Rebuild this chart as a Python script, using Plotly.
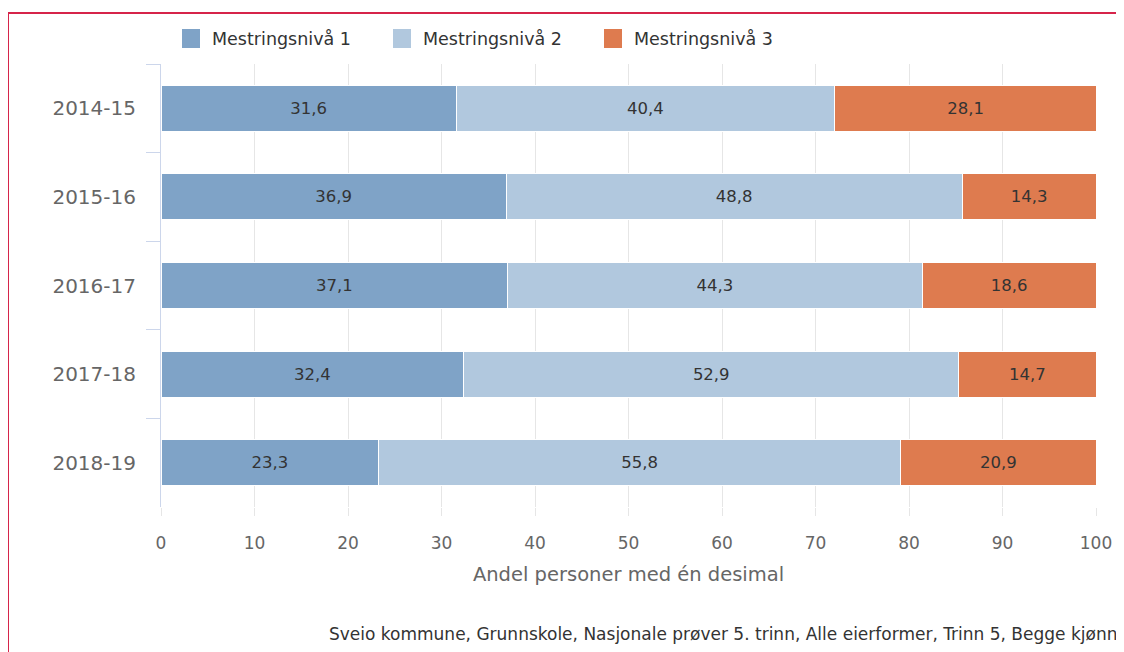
import plotly.graph_objects as go

categories = ["2014-15", "2015-16", "2016-17", "2017-18", "2018-19"]
series_names = ["Mestringsnivå 1", "Mestringsnivå 2", "Mestringsnivå 3"]
niva1 = [31.6, 36.9, 37.1, 32.4, 23.3]
niva2 = [40.4, 48.8, 44.3, 52.9, 55.8]
niva3 = [28.1, 14.3, 18.6, 14.7, 20.9]
x_ticks = [0, 10, 20, 30, 40, 50, 60, 70, 80, 90, 100]
colors = ["#7fa3c7", "#b1c8de", "#de7b4f"]
x_title = "Andel personer med én desimal"
footer = "Sveio kommune, Grunnskole, Nasjonale prøver 5. trinn, Alle eierformer, Trinn 5, Begge kjønn"

# page body has an 8px margin, so the figure is drawn 8px in from the viewport corner
OFF = 8
W, H = 1124 - OFF, 652 - OFF
L, R, T, B = 161 - OFF, 1124 - 1096, 64 - OFF, 652 - 507
PW, PH = W - L - R, H - T - B


def px(x):
    """reference viewport x -> paper x"""
    return (x - OFF - L) / PW


def py(y):
    """reference viewport y -> paper y"""
    return (H - B - (y - OFF)) / PH


FONT = "DejaVu Sans"

fig = go.Figure()
for name, vals, col in zip(series_names, [niva1, niva2, niva3], colors):
    fig.add_trace(go.Bar(
        y=categories, x=vals, name=name, orientation="h",
        marker=dict(color=col, line=dict(color="white", width=1)),
        text=[f"{v:.1f}".replace(".", ",") for v in vals],
        textposition="inside", insidetextanchor="middle",
        textfont=dict(family=FONT, size=16.5, color="#333333"),
        showlegend=False, hoverinfo="skip",
    ))

# legend drawn by hand (large square swatches)
leg_sym_x = [182, 393, 604]
shapes = []
annotations = []
for i, name in enumerate(series_names):
    x0 = leg_sym_x[i]
    shapes.append(dict(type="rect", xref="paper", yref="paper",
                       x0=px(x0), x1=px(x0 + 18), y0=py(48), y1=py(29),
                       fillcolor=colors[i], line=dict(width=0)))
    annotations.append(dict(text=name, xref="paper", yref="paper",
                            x=px(x0 + 28), y=py(39), xanchor="left", yanchor="middle",
                            showarrow=False,
                            font=dict(family=FONT, size=17.5, color="#333333")))

# red frame (top and left edges)
shapes.append(dict(type="line", xref="paper", yref="paper",
                   x0=px(8), x1=px(1140), y0=py(13), y1=py(13),
                   line=dict(color="#d6244a", width=2)))
shapes.append(dict(type="line", xref="paper", yref="paper",
                   x0=px(8), x1=px(8), y0=py(13), y1=py(670),
                   line=dict(color="#d6244a", width=2)))

annotations.append(dict(text=footer, xref="paper", yref="paper",
                        x=px(1119), y=py(634), xanchor="right", yanchor="middle",
                        showarrow=False, font=dict(family=FONT, size=17, color="#333333")))

fig.update_layout(
    width=W, height=H, barmode="stack", bargap=0.48,
    margin=dict(l=L, r=R, t=T, b=B, autoexpand=False),
    paper_bgcolor="white", plot_bgcolor="white",
    font=dict(family=FONT, color="#666666"),
    shapes=shapes, annotations=annotations,
    xaxis=dict(range=[0, 100], tickvals=x_ticks, showgrid=True, gridcolor="#e6e6e6",
               gridwidth=1, zeroline=False, showline=False, ticks="outside",
               ticklen=8, tickcolor="#e6e6e6", ticklabelstandoff=13,
               tickfont=dict(family=FONT, size=17, color="#666666")),
    yaxis=dict(autorange="reversed", showline=True, linecolor="#ccd6eb", linewidth=1,
               ticks="outside", tickson="boundaries", ticklen=14, tickcolor="#ccd6eb",
               showgrid=False, ticklabelstandoff=20,
               tickfont=dict(family=FONT, size=20, color="#666666")),
)
fig.update_xaxes(title=dict(text=x_title, standoff=14,
                            font=dict(family=FONT, size=19.5, color="#666666")))

fig.write_html("out.html")
